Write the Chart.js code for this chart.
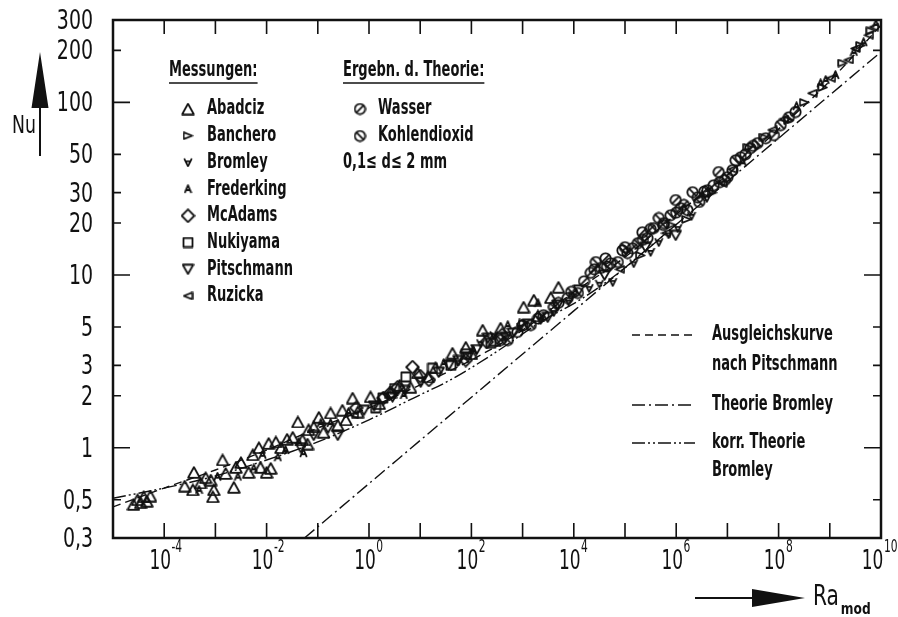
<!DOCTYPE html>
<html lang="de">
<head>
<meta charset="UTF-8">
<title>Nu über Ra_mod</title>
<script src="https://cdn.jsdelivr.net/npm/chart.js"></script>
<style>
  html, body { margin: 0; padding: 0; background: #fff; }
  #box { position: relative; width: 898px; height: 617px; }
</style>
</head>
<body>
<div id="box"><canvas id="nuChart"></canvas></div>
<script>
// Messpunkte, je Punkt [log10 Ra_mod, Nu]
const abadciz = [
  [-4.60, 0.47], [-4.52, 0.50], [-4.46, 0.48], [-4.34, 0.49], [-4.40, 0.52], [-4.27, 0.525],
  [-3.60, 0.60], [-3.42, 0.72], [-3.44, 0.57], [-3.29, 0.625], [-3.19, 0.67], [-3.09, 0.65],
  [-3.03, 0.57], [-3.05, 0.52], [-2.86, 0.85], [-2.80, 0.71], [-2.60, 0.77], [-2.50, 0.82],
  [-2.64, 0.59], [-2.35, 0.72], [-2.27, 0.91], [-2.15, 1.0], [-2.12, 0.77], [-2.00, 0.72],
  [-1.96, 1.06], [-1.92, 0.76], [-1.82, 1.08], [-1.72, 1.0], [-1.60, 1.12], [-1.49, 1.15],
  [-1.39, 1.41], [-1.30, 1.11], [-1.20, 1.05], [-1.18, 1.27], [-1.08, 1.32], [-0.98, 1.50],
  [-0.89, 1.23], [-0.75, 1.59], [-0.61, 1.35], [-0.52, 1.65], [-0.45, 1.45], [-0.32, 1.94],
  [-0.22, 1.61], [0.03, 1.97], [0.20, 1.80], [0.42, 2.10], [0.60, 2.30], [0.81, 2.24],
  [0.95, 2.71], [1.15, 2.57], [1.30, 2.90], [1.63, 3.53], [1.89, 3.82], [2.00, 3.50],
  [2.22, 4.80], [2.45, 4.20], [2.57, 4.93], [3.02, 6.52], [3.22, 7.16], [3.30, 5.80],
  [3.55, 7.4], [3.70, 8.5]
];
const banchero = [
  [3.02, 5.28], [4.0, 7.6], [5.3, 13], [5.9, 19.5], [6.2, 21], [6.7, 30],
  [7.4, 55], [7.71, 63], [8.20, 78.9], [8.5, 100], [8.86, 122], [9.25, 169],
  [9.60, 214], [9.80, 260]
];
const bromley = [
  [1.73, 3.13], [2.18, 4.03], [2.44, 4.48], [2.96, 5.0], [3.35, 5.49],
  [3.61, 6.1], [3.9, 7.0], [4.3, 8.4], [4.5, 8.9], [4.76, 9.1], [5.17, 11.7],
  [5.5, 13.6], [5.66, 15.5], [5.85, 17.2], [6.03, 18.7], [6.3, 22], [6.6, 28]
];
const frederking = [
  [-3.32, 0.57], [-2.96, 0.68], [-2.56, 0.68], [-2.25, 0.76], [-2.08, 0.91],
  [-1.78, 0.88], [-1.63, 0.97], [-1.37, 1.08], [-1.28, 0.93], [-0.94, 1.39],
  [-0.75, 1.39], [-0.40, 1.61], [0.68, 2.02], [1.46, 3.09], [2.04, 3.68],
  [2.71, 5.13], [3.30, 6.88], [6.5, 29], [7.3, 45], [8.35, 95], [8.82, 129],
  [8.92, 135], [9.11, 144], [9.47, 196], [9.66, 223], [9.90, 285]
];
const mcadams = [
  [-0.25, 1.7], [0.28, 1.94], [0.40, 2.05], [0.56, 2.24], [0.85, 2.93],
  [1.0, 2.6], [1.17, 2.47], [1.89, 3.22], [2.3, 4.1], [2.6, 4.5]
];
const nukiyama = [
  [0.13, 1.70], [0.27, 1.94], [0.5, 2.2], [0.72, 2.57], [1.24, 2.89],
  [1.6, 3.0], [1.9, 3.5], [2.38, 4.03]
];
const pitschmann = [
  [-1.33, 1.0], [-1.08, 1.18], [-0.8, 1.3], [-0.61, 1.18], [-0.10, 1.65],
  [0.1, 1.75], [0.46, 1.97], [0.7, 2.15], [1.01, 2.40], [1.36, 2.74],
  [1.56, 3.01], [1.75, 3.2], [1.93, 3.34], [2.1, 3.7], [2.32, 4.31],
  [2.67, 4.37], [2.81, 4.61], [3.1, 5.2], [3.49, 5.7], [3.68, 6.7],
  [4.1, 8.2], [4.6, 10.0], [5.4, 14.5], [5.99, 17.0]
];
const ruzicka = [
  [-0.30, 1.55], [4.9, 10.8], [5.8, 17.5], [6.9, 34], [7.1, 41],
  [7.88, 69.2], [8.1, 80], [8.66, 113], [9.02, 138], [9.37, 176],
  [9.5, 205], [9.76, 245], [9.86, 273]
];
// Ergebnisse der Theorie
const wasser = [
  [2.57, 4.2], [2.90, 4.68], [3.0, 5.1], [3.41, 5.86], [3.7, 6.9], [3.88, 7.36],
  [4.2, 9.2], [4.33, 10.3], [4.4, 10.8], [4.62, 12.5], [4.72, 11.7], [5.05, 13.4],
  [5.15, 14.3], [5.34, 17.7], [5.44, 16.4], [5.5, 18.5], [5.76, 20.0], [5.99, 27.2],
  [6.09, 24.4], [6.15, 25.5], [6.42, 28.2], [6.55, 30.5], [6.73, 33.1], [6.83, 39.5],
  [6.95, 35.5], [7.10, 40.5], [7.35, 50], [7.45, 54.3], [7.75, 62], [7.91, 64.6],
  [8.33, 87.9]
];
const kohlendioxid = [
  [2.71, 4.2], [3.16, 5.13], [3.3, 5.6], [3.61, 6.53], [3.95, 8.0], [4.08, 7.87],
  [4.43, 11.9], [4.53, 11.0], [4.65, 11.2], [4.86, 11.9], [4.95, 13.9], [5.0, 14.5],
  [5.25, 15.3], [5.35, 16.0], [5.56, 18.7], [5.66, 21.4], [5.75, 19.5], [5.89, 22.2],
  [6.0, 23.0], [6.22, 23.8], [6.32, 30.2], [6.45, 26.5], [6.61, 31.0], [6.85, 34.5],
  [7.0, 36.9], [7.16, 46.2], [7.26, 48.1], [7.5, 56], [7.59, 58.1], [8.04, 73.8],
  [8.2, 82]
];
// Kurven
const ausgleichskurve = [
  [-5, 0.454], [-4, 0.584], [-3, 0.743], [-2, 0.969], [-1, 1.30], [0, 1.70],
  [1, 2.31], [2, 3.22], [3, 4.8], [4, 7.96], [5, 12.7], [6, 22.5],
  [7, 38], [8, 70], [9, 133], [10, 280]
];
const theorieBromley = [[-1.26, 0.30], [4, 6.2], [10, 196]];
const korrTheorie = [
  [-5, 0.51], [-4, 0.584], [-3, 0.686], [-2, 0.849], [-1, 1.08], [0, 1.45],
  [0.87, 1.94], [1.59, 2.47], [2.43, 3.5], [3.35, 5.34], [4.19, 7.4],
  [5, 11.0], [6, 19.6]
];

const yTicks = [0.3, 0.5, 1, 2, 3, 5, 10, 20, 30, 50, 100, 200, 300];
const yMajor = [1, 10, 100];
const xTickExp = [-4, -3, -2, -1, 0, 1, 2, 3, 4, 5, 6, 7, 8, 9];
const xLabelExp = [-4, -2, 0, 2, 4, 6, 8, 10];

const FONT = "'Liberation Sans Narrow', 'DejaVu Sans Condensed', sans-serif";
const INK = '#111';

const DASHED = [8, 5];
const DASH_DOT = [13, 4, 2, 4];
const DASH_DOT_DOT = [13, 3, 2, 3, 2, 3];

function makeMarker(w, h, draw) {
  const c = document.createElement('canvas');
  c.width = w; c.height = h;
  const g = c.getContext('2d');
  g.strokeStyle = INK;
  g.lineWidth = 1.8;
  g.lineJoin = 'round';
  g.beginPath();
  draw(g);
  g.stroke();
  return c;
}

const marks = {
  abadciz: makeMarker(14, 13, g => { g.moveTo(7, 1.2); g.lineTo(12.8, 11.8); g.lineTo(1.2, 11.8); g.closePath(); }),
  banchero: makeMarker(11, 9, g => { g.moveTo(1.2, 1.2); g.lineTo(9.8, 4.5); g.lineTo(1.2, 7.8); g.closePath(); }),
  bromley: makeMarker(10, 10, g => {
    g.moveTo(1.2, 1.2); g.lineTo(5, 8.8); g.lineTo(8.8, 1.2);
    g.moveTo(2.4, 3.8); g.lineTo(7.6, 3.8);
  }),
  frederking: makeMarker(9, 10, g => {
    g.moveTo(1.2, 8.8); g.lineTo(4.5, 1.2); g.lineTo(7.8, 8.8);
    g.moveTo(2.6, 6); g.lineTo(6.4, 6);
  }),
  mcadams: makeMarker(15, 15, g => { g.moveTo(7.5, 1.2); g.lineTo(13.8, 7.5); g.lineTo(7.5, 13.8); g.lineTo(1.2, 7.5); g.closePath(); }),
  nukiyama: makeMarker(12, 12, g => { g.rect(1.5, 1.5, 9, 9); }),
  pitschmann: makeMarker(13, 12, g => { g.moveTo(1.2, 1.5); g.lineTo(11.8, 1.5); g.lineTo(6.5, 10.8); g.closePath(); }),
  ruzicka: makeMarker(11, 9, g => { g.moveTo(9.8, 1.2); g.lineTo(1.2, 4.5); g.lineTo(9.8, 7.8); g.closePath(); }),
  wasser: makeMarker(13, 13, g => {
    g.arc(6.5, 6.5, 5.2, 0, Math.PI * 2);
    g.moveTo(3.2, 9.8); g.lineTo(9.8, 3.2);
  }),
  kohlendioxid: makeMarker(13, 13, g => {
    g.arc(6.5, 6.5, 5.2, 0, Math.PI * 2);
    g.moveTo(3.2, 3.2); g.lineTo(9.8, 9.8);
  })
};

const pts = arr => arr.map(([e, nu]) => ({ x: Math.pow(10, e), y: nu }));

function markerSet(label, data, style) {
  return { label, data: pts(data), pointStyle: style, pointRadius: 6, showLine: false, order: 1 };
}
function curveSet(label, data, dash) {
  return {
    label, data: pts(data), showLine: true, pointRadius: 0,
    borderColor: INK, borderWidth: 1.4, borderDash: dash,
    cubicInterpolationMode: 'monotone', order: 2
  };
}

// Schrift schmal gezogen (Normschrift)
function say(ctx, str, x, y, font, align = 'left', sx = 0.69) {
  ctx.save();
  ctx.font = font;
  ctx.translate(x, y);
  ctx.scale(sx, 1);
  ctx.textAlign = align;
  ctx.textBaseline = 'middle';
  ctx.fillText(str, 0, 0);
  const w = ctx.measureText(str).width * sx;
  ctx.restore();
  return w;
}
function width(ctx, str, font, sx) {
  ctx.save();
  ctx.font = font;
  const w = ctx.measureText(str).width * sx;
  ctx.restore();
  return w;
}

function sample(ctx, dash, x0, x1, y) {
  ctx.save();
  ctx.lineWidth = 1.4;
  ctx.setLineDash(dash);
  ctx.beginPath();
  ctx.moveTo(x0, y); ctx.lineTo(x1, y);
  ctx.stroke();
  ctx.restore();
}

const legendRows = [
  ['Abadciz', marks.abadciz], ['Banchero', marks.banchero], ['Bromley', marks.bromley],
  ['Frederking', marks.frederking], ['McAdams', marks.mcadams], ['Nukiyama', marks.nukiyama],
  ['Pitschmann', marks.pitschmann], ['Ruzicka', marks.ruzicka]
];

const paperPlugin = {
  id: 'paper',
  afterDraw(chart) {
    const { ctx, chartArea: a, scales: { x, y } } = chart;
    ctx.save();
    ctx.strokeStyle = INK;
    ctx.fillStyle = INK;

    // Rahmen
    ctx.lineWidth = 2.5;
    ctx.strokeRect(a.left, a.top, a.right - a.left, a.bottom - a.top);

    // Teilstriche nach innen
    ctx.lineWidth = 1.6;
    ctx.beginPath();
    xTickExp.forEach(e => {
      const px = x.getPixelForValue(Math.pow(10, e));
      ctx.moveTo(px, a.bottom); ctx.lineTo(px, a.bottom - 15);
      ctx.moveTo(px, a.top); ctx.lineTo(px, a.top + 14);
    });
    yTicks.slice(1, -1).forEach(v => {
      const py = y.getPixelForValue(v);
      const len = yMajor.includes(v) ? 17 : 8;
      ctx.moveTo(a.left, py); ctx.lineTo(a.left + len, py);
      ctx.moveTo(a.right, py); ctx.lineTo(a.right - len, py);
    });
    ctx.stroke();

    // Beschriftung Nu-Achse
    yTicks.forEach(v => {
      const py = y.getPixelForValue(v);
      say(ctx, String(v).replace('.', ','), 93, py + 2, `27px ${FONT}`, 'right', 0.78);
    });
    // Beschriftung Ra-Achse: 10 hoch n, letzte Marke bleibt im Bild
    const baseFont = `27px ${FONT}`, supFont = `18px ${FONT}`;
    xLabelExp.forEach(e => {
      const wb = width(ctx, '10', baseFont, 0.7);
      const ws = width(ctx, String(e), supFont, 0.66);
      let px = x.getPixelForValue(Math.pow(10, e)) - 4;
      const overflow = px + wb / 2 + ws - (chart.width - 1);
      if (overflow > 0) px -= overflow;
      say(ctx, '10', px, 562, baseFont, 'center', 0.7);
      say(ctx, String(e), px + wb / 2 + 0.5, 547, supFont, 'left', 0.66);
    });

    // Achsenpfeile
    ctx.lineWidth = 2;
    ctx.beginPath();
    ctx.moveTo(40, 156); ctx.lineTo(40, 100);
    ctx.moveTo(695, 598); ctx.lineTo(760, 598);
    ctx.stroke();
    ctx.beginPath();
    ctx.moveTo(40, 52); ctx.lineTo(48.5, 108); ctx.lineTo(31.5, 108); ctx.closePath();
    ctx.moveTo(805, 598); ctx.lineTo(752, 589); ctx.lineTo(752, 607); ctx.closePath();
    ctx.fill();
    say(ctx, 'Nu', 12, 127, `24px ${FONT}`, 'left', 0.8);
    const wRa = say(ctx, 'Ra', 813, 598, `28px ${FONT}`, 'left', 0.8);
    say(ctx, 'mod', 813 + wRa + 2, 610, `bold 16px ${FONT}`, 'left', 0.85);

    // Legende Messungen
    const bold = `bold 21px ${FONT}`;
    ctx.lineWidth = 1.4;
    let w = say(ctx, 'Messungen:', 169, 71, bold);
    ctx.beginPath(); ctx.moveTo(169, 83); ctx.lineTo(169 + w, 83); ctx.stroke();
    legendRows.forEach(([name, mk], i) => {
      const ry = 109 + i * 26.7;
      ctx.drawImage(mk, 188 - mk.width / 2, ry - mk.height / 2);
      say(ctx, name, 207, ry, bold);
    });

    w = say(ctx, 'Ergebn. d. Theorie:', 343, 71, bold);
    ctx.beginPath(); ctx.moveTo(343, 83); ctx.lineTo(343 + w, 83); ctx.stroke();
    ctx.drawImage(marks.wasser, 360 - 6.5, 109 - 6.5);
    say(ctx, 'Wasser', 378, 109, bold);
    ctx.drawImage(marks.kohlendioxid, 360 - 6.5, 136 - 6.5);
    say(ctx, 'Kohlendioxid', 378, 136, bold);
    say(ctx, '0,1\u2264 d\u2264 2 mm', 343, 163, bold);

    // Legende Kurven
    sample(ctx, DASHED, 632, 695, 335);
    say(ctx, 'Ausgleichskurve', 712, 335, bold);
    say(ctx, 'nach Pitschmann', 712, 365, bold);
    sample(ctx, DASH_DOT, 632, 695, 405);
    say(ctx, 'Theorie Bromley', 712, 405, bold);
    sample(ctx, DASH_DOT_DOT, 632, 695, 443);
    say(ctx, 'korr. Theorie', 712, 443, bold);
    say(ctx, 'Bromley', 712, 471, bold);

    ctx.restore();
  }
};

new Chart(document.getElementById('nuChart'), {
  type: 'scatter',
  data: {
    datasets: [
      curveSet('Ausgleichskurve nach Pitschmann', ausgleichskurve, DASHED),
      curveSet('Theorie Bromley', theorieBromley, DASH_DOT),
      curveSet('korr. Theorie Bromley', korrTheorie, DASH_DOT_DOT),
      markerSet('Abadciz', abadciz, marks.abadciz),
      markerSet('Banchero', banchero, marks.banchero),
      markerSet('Bromley', bromley, marks.bromley),
      markerSet('Frederking', frederking, marks.frederking),
      markerSet('McAdams', mcadams, marks.mcadams),
      markerSet('Nukiyama', nukiyama, marks.nukiyama),
      markerSet('Pitschmann', pitschmann, marks.pitschmann),
      markerSet('Ruzicka', ruzicka, marks.ruzicka),
      markerSet('Wasser', wasser, marks.wasser),
      markerSet('Kohlendioxid', kohlendioxid, marks.kohlendioxid)
    ]
  },
  options: {
    responsive: true,
    maintainAspectRatio: false,
    animation: false,
    events: [],
    layout: { padding: { left: 113, right: 17, top: 20, bottom: 79 } },
    plugins: { legend: { display: false }, tooltip: { enabled: false } },
    scales: {
      x: { type: 'logarithmic', min: 1e-5, max: 1e10, display: false },
      y: { type: 'logarithmic', min: 0.3, max: 300, display: false }
    }
  },
  plugins: [paperPlugin]
});
</script>
</body>
</html>
